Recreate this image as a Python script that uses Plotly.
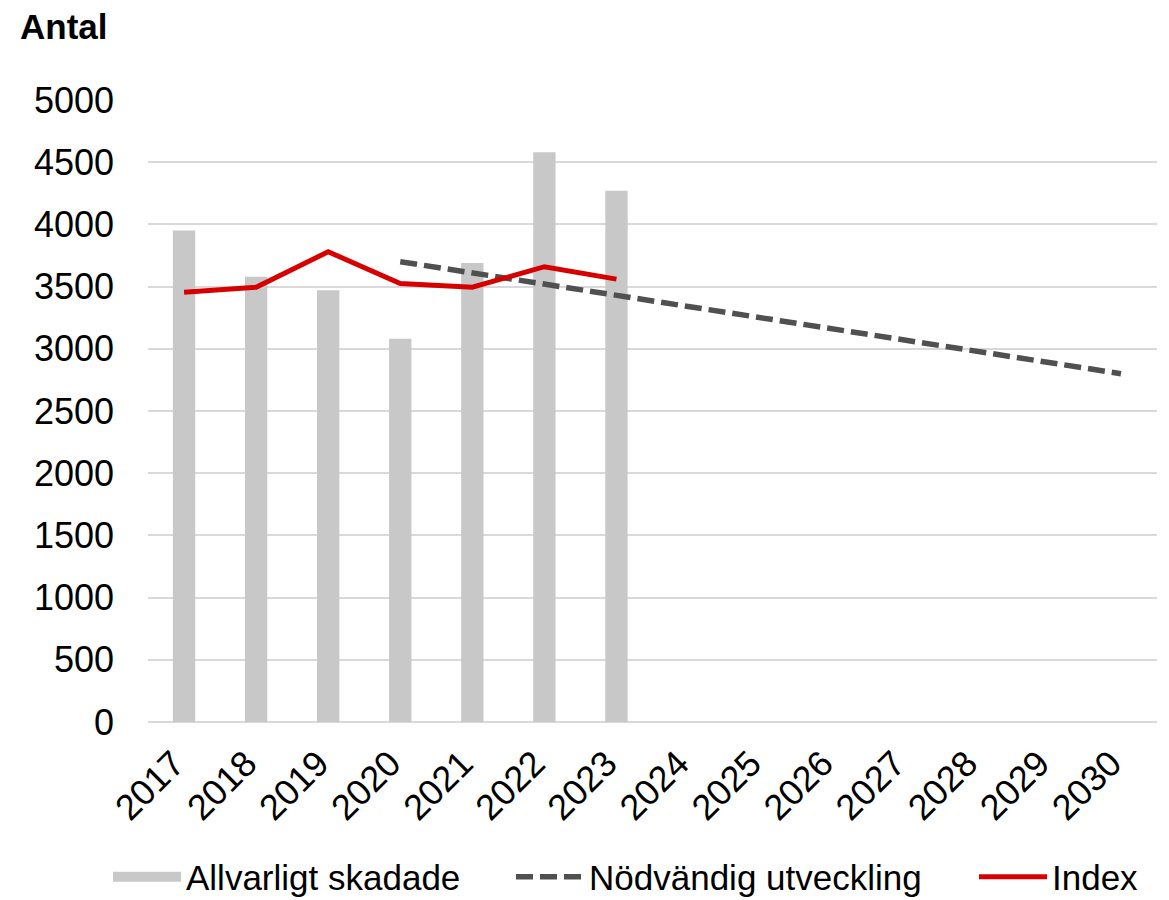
import plotly.graph_objects as go

years = [str(y) for y in range(2017, 2031)]
bar_years = ["2017", "2018", "2019", "2020", "2021", "2022", "2023"]
allvarligt = [3950, 3580, 3470, 3080, 3690, 4580, 4270]
index_years = ["2017", "2018", "2019", "2020", "2021", "2022", "2023"]
index_vals = [3455, 3495, 3780, 3525, 3495, 3660, 3560]
nod_years = ["2020", "2021", "2022", "2023", "2024", "2025", "2026", "2027", "2028", "2029", "2030"]
nod_vals = [3700, 3610, 3520, 3430, 3340, 3250, 3160, 3070, 2980, 2890, 2800]
y_ticks = [0, 500, 1000, 1500, 2000, 2500, 3000, 3500, 4000, 4500, 5000]

FONT = "Liberation Sans, Arial, sans-serif"
W, H = 1161, 892  # page body adds an 8px margin

fig = go.Figure()
fig.add_trace(go.Bar(x=bar_years, y=allvarligt, name="Allvarligt skadade", showlegend=False,
                     marker=dict(color="#c8c8c8", line=dict(width=0))))
# legend swatch for the bars (wide rectangle like the original)
fig.add_trace(go.Scatter(x=[None], y=[None], name="Allvarligt skadade", mode="lines",
                         line=dict(color="#c8c8c8", width=20), legend="legend"))
fig.add_trace(go.Scatter(x=nod_years, y=nod_vals, name="Nödvändig utveckling", mode="lines",
                         line=dict(color="#505050", width=5.5, dash="17px,7px"), legend="legend2"))
fig.add_trace(go.Scatter(x=index_years, y=index_vals, name="Index", mode="lines",
                         line=dict(color="#d70000", width=5), legend="legend3"))

def leg(xpx):
    return dict(orientation="h", x=xpx / W, xref="container", xanchor="left",
                y=1 - 869 / H, yref="container", yanchor="middle",
                font=dict(family=FONT, size=35, color="black"), itemwidth=68,
                bgcolor="rgba(0,0,0,0)")

fig.update_layout(
    width=W, height=H,
    paper_bgcolor="white", plot_bgcolor="white",
    margin=dict(l=140, r=12, t=92, b=178),
    font=dict(family=FONT, size=36, color="black"),
    bargap=0.69,
    title=dict(text="<b>Antal</b>", x=12 / W, xref="container", xanchor="left",
               y=1 - 19 / H, yref="container", yanchor="middle",
               font=dict(family=FONT, size=35, color="black")),
    xaxis=dict(type="category", categoryorder="array", categoryarray=years,
               range=[-0.5, 13.5], tickvals=years, ticktext=years, tickangle=-45,
               automargin=False, showgrid=False, showline=False, ticks="", zeroline=False,
               tickfont=dict(size=36), ticklabelstandoff=12, ticklabelshift=-10),
    yaxis=dict(range=[0, 5000], tickvals=y_ticks, showgrid=True, gridcolor="#d9d9d9",
               gridwidth=2, zeroline=True, zerolinecolor="#d9d9d9", zerolinewidth=2,
               ticks="", showline=False, tickfont=dict(size=36), ticklabelstandoff=33,
               automargin=False),
    legend=leg(100),
    legend2=leg(503),
    legend3=leg(966),
    showlegend=True,
)

fig.write_html("out.html")
